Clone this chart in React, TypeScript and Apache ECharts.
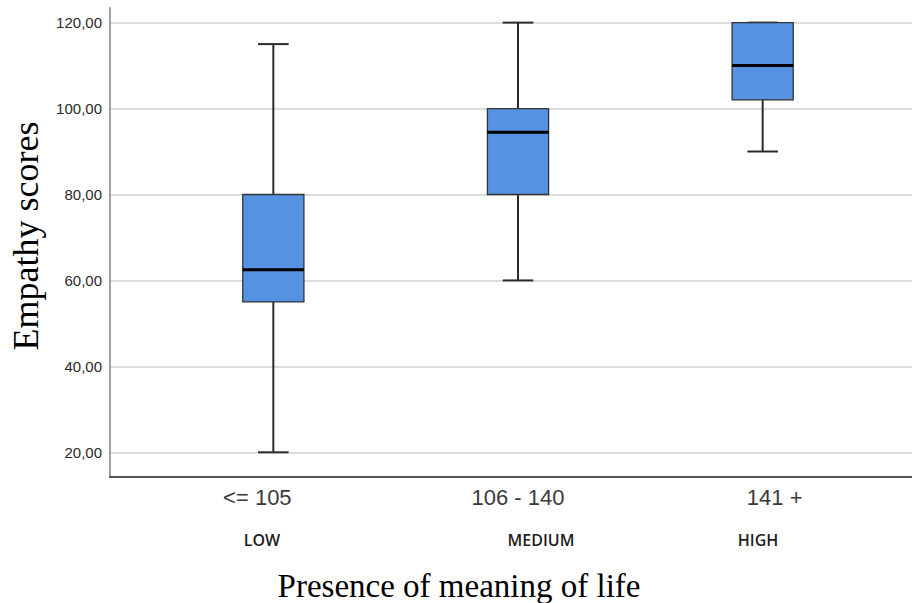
import React, { useEffect, useRef } from "react";
import * as echarts from "echarts";

const categories = ["<= 105", "106 - 140", "141 +"];
const groupLabels = ["LOW", "MEDIUM", "HIGH"];
const mins = [20, 60, 90];
const q1s = [55, 80, 102];
const medians = [62.5, 94.5, 110];
const q3s = [80, 100, 120];
const maxs = [115, 120, 120];
const yTicks = [20, 40, 60, 80, 100, 120];
const yMin = 14.25;
const yMax = 123.4;

export default function App() {
  const ref = useRef<HTMLDivElement>(null);
  useEffect(() => {
    if (!ref.current) return;
    const chart = echarts.init(ref.current, null, { renderer: "svg" });
    const boxData = categories.map((_, i) => [i, mins[i], q1s[i], medians[i], q3s[i], maxs[i]]);
    const option: any = {
      animation: false,
      backgroundColor: "#ffffff",
      grid: [
        { left: 110, right: 0, top: 8, bottom: 126 },
        { left: 151, width: 734, top: 8, bottom: 126 },
      ],
      xAxis: [
        {
          gridIndex: 0,
          type: "value",
          min: 0,
          max: 1,
          axisLine: { show: true, onZero: false, lineStyle: { color: "#555555", width: 2 } },
          axisTick: { show: false },
          axisLabel: { show: false },
          splitLine: { show: false },
        },
        {
          gridIndex: 1,
          type: "category",
          data: categories,
          boundaryGap: true,
          axisLine: { show: false },
          axisTick: { show: false },
          splitLine: { show: false },
          axisLabel: {
            margin: 9,
            color: "#3a3a3a",
            fontFamily: "Arial, 'Liberation Sans', sans-serif",
            fontSize: 22,
            formatter: (v: string, i: number) => `{c${i}|${v}}`,
            rich: {
              c0: { fontSize: 22, color: "#3a3a3a", fontFamily: "Arial, 'Liberation Sans', sans-serif", padding: [0, 32, 0, 0] },
              c1: { fontSize: 22, color: "#3a3a3a", fontFamily: "Arial, 'Liberation Sans', sans-serif" },
              c2: { fontSize: 22, color: "#3a3a3a", fontFamily: "Arial, 'Liberation Sans', sans-serif", padding: [0, 0, 0, 24] },
            },
          },
        },
      ],
      yAxis: [
        {
          gridIndex: 0,
          type: "value",
          min: yMin,
          max: yMax,
          axisLine: { show: true, lineStyle: { color: "#a0a0a0", width: 2 } },
          axisTick: { show: false, customValues: yTicks },
          axisLabel: {
            customValues: yTicks,
            margin: 8,
            color: "#2a2a2a",
            fontSize: 15,
            fontFamily: "Arial, 'Liberation Sans', sans-serif",
            formatter: (v: number) => v.toFixed(2).replace(".", ","),
          },
          splitLine: { show: true, lineStyle: { color: "#d2d2d2", width: 1.6 } },
        },
        {
          gridIndex: 1,
          type: "value",
          min: yMin,
          max: yMax,
          show: false,
          splitLine: { show: false },
        },
      ],
      series: [
        {
          type: "custom",
          xAxisIndex: 1,
          yAxisIndex: 1,
          clip: false,
          data: boxData,
          renderItem: (params: any, api: any) => {
            const idx = api.value(0);
            const vMin = api.value(1);
            const vQ1 = api.value(2);
            const vMed = api.value(3);
            const vQ3 = api.value(4);
            const vMax = api.value(5);
            const band = api.size([1, 0])[0];
            const boxW = band * 0.25;
            const capW = boxW * 0.5;
            const pMin = api.coord([idx, vMin]);
            const pQ1 = api.coord([idx, vQ1]);
            const pMed = api.coord([idx, vMed]);
            const pQ3 = api.coord([idx, vQ3]);
            const pMax = api.coord([idx, vMax]);
            const cx = pMed[0];
            const lineStyle = { stroke: "#2b2b2b", lineWidth: 2 };
            return {
              type: "group",
              children: [
                { type: "line", shape: { x1: cx, y1: pMax[1], x2: cx, y2: pQ3[1] }, style: lineStyle },
                { type: "line", shape: { x1: cx, y1: pQ1[1], x2: cx, y2: pMin[1] }, style: lineStyle },
                { type: "line", shape: { x1: cx - capW / 2, y1: pMax[1], x2: cx + capW / 2, y2: pMax[1] }, style: lineStyle },
                { type: "line", shape: { x1: cx - capW / 2, y1: pMin[1], x2: cx + capW / 2, y2: pMin[1] }, style: lineStyle },
                {
                  type: "rect",
                  shape: { x: cx - boxW / 2, y: pQ3[1], width: boxW, height: pQ1[1] - pQ3[1] },
                  style: { fill: "#5592e1", stroke: "#333333", lineWidth: 1.3 },
                },
                { type: "line", shape: { x1: cx - boxW / 2, y1: pMed[1], x2: cx + boxW / 2, y2: pMed[1] }, style: { stroke: "#000000", lineWidth: 3 } },
              ],
            };
          },
        },
      ],
      graphic: [
        {
          type: "text",
          x: 26,
          y: 236,
          rotation: Math.PI / 2,
          style: {
            text: "Empathy scores",
            fill: "#000000",
            font: "36px 'Liberation Serif', 'Times New Roman', serif",
            textAlign: "center",
            textVerticalAlign: "middle",
          },
        },
        {
          type: "text",
          x: 459,
          y: 586,
          style: {
            text: "Presence of meaning of life",
            fill: "#000000",
            font: "33px 'Liberation Serif', 'Times New Roman', serif",
            textAlign: "center",
            textVerticalAlign: "middle",
          },
        },
        ...groupLabels.map((t, i) => ({
          type: "text",
          x: [262, 541, 758][i],
          y: 540,
          style: {
            text: t,
            fill: "#1e1e1e",
            font: "600 16px 'Open Sans', sans-serif",
            textAlign: "center",
            textVerticalAlign: "middle",
          },
        })),
      ],
    };
    chart.setOption(option);
    return () => chart.dispose();
  }, []);
  return (
    <div
      ref={ref}
      style={{ position: "fixed", left: 0, top: 0, width: 912, height: 603, background: "#fff" }}
    />
  );
}
